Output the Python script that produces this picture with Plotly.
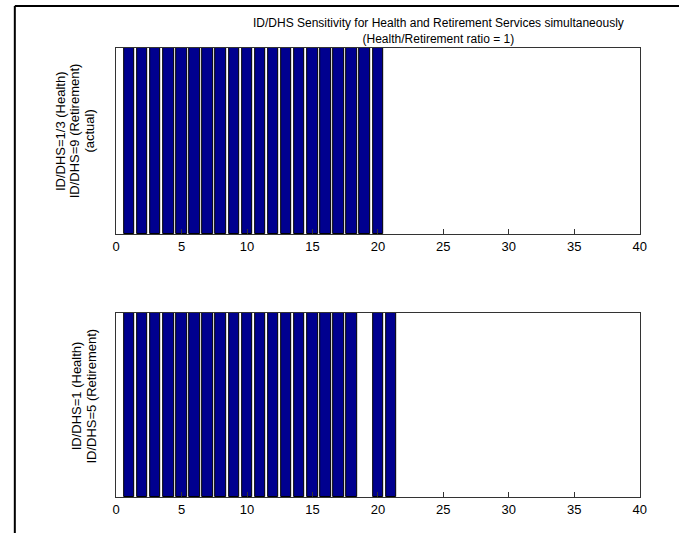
import plotly.graph_objects as go

# Scenario bars: case index -> indicator (1 = present)
top_cases = list(range(1, 21))
top_values = [1] * len(top_cases)
bottom_cases = list(range(1, 19)) + [20, 21]
bottom_values = [1] * len(bottom_cases)

x_ticks = [0, 5, 10, 15, 20, 25, 30, 35, 40]

title_lines = [
    "ID/DHS Sensitivity for Health and Retirement Services simultaneously",
    "(Health/Retirement ratio = 1)",
]
top_ylabel = ["ID/DHS=1/3 (Health)", "ID/DHS=9 (Retirement)", "(actual)"]
bottom_ylabel = ["ID/DHS=1 (Health)", "ID/DHS=5 (Retirement)"]

W, H = 686, 533
FONT = "Arial, Liberation Sans, sans-serif"
BAR_COLOR = "#00008F"


def px_x(p):
    return p / W


def px_y(p):
    return 1 - p / H


ax_left, ax_right = 114, 646
top_box = (48, 234)
bot_box = (313, 497)
LINE_STEP = 14.5  # spacing between stacked y-label lines

fig = go.Figure()
fig.add_trace(go.Bar(x=top_cases, y=top_values, width=0.8,
                     marker=dict(color=BAR_COLOR, line=dict(color="black", width=1)),
                     xaxis="x", yaxis="y", showlegend=False, hoverinfo="skip"))
fig.add_trace(go.Bar(x=bottom_cases, y=bottom_values, width=0.8,
                     marker=dict(color=BAR_COLOR, line=dict(color="black", width=1)),
                     xaxis="x2", yaxis="y2", showlegend=False, hoverinfo="skip"))

xaxis_common = dict(
    range=[0, 40], tickvals=x_ticks, ticktext=[str(t) for t in x_ticks],
    ticks="inside", ticklen=5, tickcolor="#333", showgrid=False, zeroline=False,
    showline=True, linecolor="#333", linewidth=1, mirror=True,
    tickfont=dict(family=FONT, size=13, color="black"),
    domain=[px_x(ax_left), px_x(ax_right)], fixedrange=True,
)
yaxis_common = dict(
    range=[0, 1], showticklabels=False, ticks="", showgrid=False, zeroline=False,
    showline=True, linecolor="#333", linewidth=1, mirror=True, fixedrange=True,
)

annotations = [
    dict(text="<br>".join(title_lines), x=px_x(442), y=px_y(31),
         xref="paper", yref="paper", xanchor="center", yanchor="middle",
         showarrow=False, font=dict(family=FONT, size=12, color="black")),
]


def stacked_ylabel(lines, last_x, center_y):
    # rotated label lines, last line closest to the axis
    n = len(lines)
    for i, line in enumerate(lines):
        xpos = last_x - (n - 1 - i) * LINE_STEP
        annotations.append(dict(
            text=line, x=px_x(xpos), y=px_y(center_y), xref="paper", yref="paper",
            xanchor="center", yanchor="middle", textangle=-90, showarrow=False,
            font=dict(family=FONT, size=13, color="black")))


stacked_ylabel(top_ylabel, 86, 131)
stacked_ylabel(bottom_ylabel, 88, 396)

# Window frame along the top and left edges
shapes = [
    dict(type="line", xref="paper", yref="paper", x0=px_x(11), x1=1.0, y0=px_y(6), y1=px_y(6),
         line=dict(color="black", width=2)),
    dict(type="line", xref="paper", yref="paper", x0=px_x(11), x1=px_x(11), y0=px_y(6), y1=0,
         line=dict(color="black", width=2)),
]

fig.update_layout(
    width=W, height=H, margin=dict(l=0, r=0, t=0, b=0),
    paper_bgcolor="white", plot_bgcolor="white", bargap=0,
    xaxis=dict(xaxis_common, anchor="y"),
    yaxis=dict(yaxis_common, domain=[px_y(top_box[1]), px_y(top_box[0])], anchor="x"),
    xaxis2=dict(xaxis_common, anchor="y2"),
    yaxis2=dict(yaxis_common, domain=[px_y(bot_box[1]), px_y(bot_box[0])], anchor="x2"),
    annotations=annotations, shapes=shapes,
)

fig.write_html("out.html")
